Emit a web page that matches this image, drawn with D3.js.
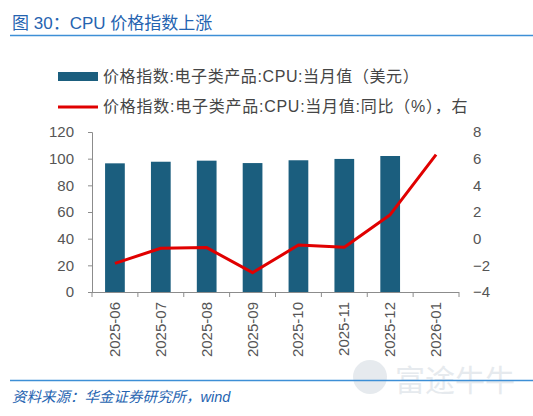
<!DOCTYPE html>
<html>
<head>
<meta charset="utf-8">
<script src="https://cdn.jsdelivr.net/npm/d3@7"></script>
<style>
  body { margin: 0; background: #fff; }
  text { font-family: "Liberation Sans", Arial, "Noto Sans CJK SC", sans-serif; }
</style>
</head>
<body>
<script>
// CPU price index: monthly value (bars, left) and YoY % (line, right)
const months = ['2025-06', '2025-07', '2025-08', '2025-09', '2025-10', '2025-11', '2025-12', '2026-01'];
const price = [96.5, 97.7, 98.5, 96.7, 98.8, 99.8, 102, null];
const yoy = [-1.85, -0.72, -0.67, -2.55, -0.48, -0.65, 1.8, 6.3];
const leftTicks = [0, 20, 40, 60, 80, 100, 120];
const rightTicks = [-4, -2, 0, 2, 4, 6, 8];

const width = 533, height = 416;
const svg = d3.select('body').append('svg')
  .attr('width', width)
  .attr('height', height);

const x0 = 92, x1 = 459, y0 = 292, y1 = 132;

const xScale = d3.scaleBand().domain(months).range([x0, x1]).paddingInner(0.57).paddingOuter(0.285);
const yLeft = d3.scaleLinear().domain([0, 120]).range([y0, y1]);
const yRight = d3.scaleLinear().domain([-4, 8]).range([y0, y1]);

// title
svg.append('text')
  .attr('x', 12).attr('y', 29)
  .attr('fill', '#2563b0')
  .attr('font-size', 17)
  .text('图 30：CPU 价格指数上涨');
svg.append('line')
  .attr('x1', 10).attr('x2', width).attr('y1', 35.5).attr('y2', 35.5)
  .attr('stroke', '#3d8fd6').attr('stroke-width', 1.5);

// legend
const legend = svg.append('g');
legend.append('rect')
  .attr('x', 58).attr('y', 72).attr('width', 40).attr('height', 9)
  .attr('fill', '#1b5e7e');
legend.append('text')
  .attr('x', 103).attr('y', 82)
  .attr('fill', '#454545').attr('font-size', 16)
  .attr('letter-spacing', 0.6)
  .text('价格指数:电子类产品:CPU:当月值（美元）');
legend.append('line')
  .attr('x1', 58).attr('x2', 98).attr('y1', 107).attr('y2', 107)
  .attr('stroke', '#e00000').attr('stroke-width', 3);
legend.append('text')
  .attr('x', 103).attr('y', 112)
  .attr('fill', '#454545').attr('font-size', 16)
  .attr('letter-spacing', 0.75)
  .text('价格指数:电子类产品:CPU:当月值:同比（%），右');

// bars
svg.selectAll('rect.bar')
  .data(months.map((m, i) => ({m: m, v: price[i]})).filter(d => d.v != null))
  .enter().append('rect')
  .attr('class', 'bar')
  .attr('x', d => xScale(d.m))
  .attr('width', xScale.bandwidth())
  .attr('y', d => yLeft(d.v))
  .attr('height', d => yLeft(0) - yLeft(d.v))
  .attr('fill', '#1b5e7e');

// left axis
const leftAxis = svg.append('g')
  .attr('transform', 'translate(' + x0 + ',0)')
  .call(d3.axisLeft(yLeft).tickValues(leftTicks).tickSize(4).tickPadding(14));
leftAxis.select('.domain').attr('stroke', '#8c8c8c');
leftAxis.selectAll('.tick line').attr('stroke', '#8c8c8c');
leftAxis.selectAll('.tick text')
  .attr('fill', '#555').attr('font-size', 15)
  .style('font-family', '"Liberation Sans", Arial, sans-serif');

// right axis, labels only
const rightAxis = svg.append('g')
  .attr('transform', 'translate(' + x1 + ',0)')
  .call(d3.axisRight(yRight).tickValues(rightTicks).tickSize(0).tickPadding(14));
rightAxis.select('.domain').remove();
rightAxis.selectAll('.tick text')
  .attr('fill', '#555').attr('font-size', 15)
  .style('font-family', '"Liberation Sans", Arial, sans-serif');

// x axis with ticks at band edges
const xAxisG = svg.append('g');
xAxisG.append('line')
  .attr('x1', x0).attr('x2', x1).attr('y1', y0 + 0.5).attr('y2', y0 + 0.5)
  .attr('stroke', '#8c8c8c');
const edges = d3.range(months.length + 1).map(i => x0 + i * (x1 - x0) / months.length);
xAxisG.selectAll('line.tk')
  .data(edges)
  .enter().append('line')
  .attr('class', 'tk')
  .attr('x1', d => d).attr('x2', d => d)
  .attr('y1', y0).attr('y2', y0 + 5)
  .attr('stroke', '#8c8c8c');
xAxisG.selectAll('text')
  .data(months)
  .enter().append('text')
  .attr('transform', d => 'translate(' + (xScale(d) + xScale.bandwidth() / 2 + 5) + ',' + (y0 + 10) + ') rotate(-90)')
  .attr('text-anchor', 'end')
  .attr('fill', '#555')
  .attr('font-size', 15)
  .text(d => d);

// yoy line
const line = d3.line()
  .x((d, i) => xScale(months[i]) + xScale.bandwidth() / 2)
  .y(d => yRight(d));
svg.append('path')
  .attr('d', line(yoy))
  .attr('fill', 'none')
  .attr('stroke', '#e00000')
  .attr('stroke-width', 3)
  .attr('stroke-linejoin', 'round');

// watermark
const wm = svg.append('g').attr('opacity', 0.6);
wm.append('circle')
  .attr('cx', 370).attr('cy', 377).attr('r', 17)
  .attr('fill', '#d6dde4');
wm.append('text')
  .attr('x', 395).attr('y', 391)
  .attr('fill', '#d6dde4')
  .attr('font-size', 30)
  .style('font-family', '"Noto Sans CJK SC", sans-serif')
  .text('富途牛牛');

// footer
svg.append('line')
  .attr('x1', 10).attr('x2', width).attr('y1', 380.5).attr('y2', 380.5)
  .attr('stroke', '#3d8fd6').attr('stroke-width', 1.5);
svg.append('text')
  .attr('x', 12).attr('y', 402)
  .attr('fill', '#2563b0')
  .attr('font-size', 14.5)
  .attr('font-style', 'italic')
  .text('资料来源：华金证券研究所，wind');
</script>
</body>
</html>
